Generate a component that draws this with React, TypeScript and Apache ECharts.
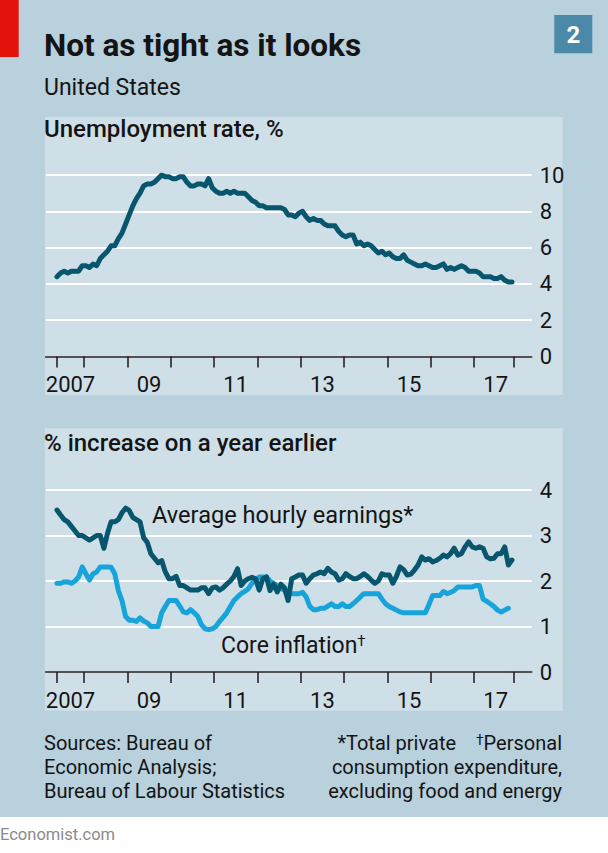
import React, { useEffect, useRef } from "react";
import * as echarts from "echarts";

// ---- Data (monthly) ----
// Unemployment rate, %, May 2007 – Nov 2017
const UNEMP_START: [number, number] = [2007, 5];
const unemployment = [
  4.4, 4.6, 4.7, 4.6, 4.7, 4.7, 4.7, 5.0,
  5.0, 4.9, 5.1, 5.0, 5.4, 5.6, 5.8, 6.1, 6.1, 6.5, 6.8, 7.3,
  7.8, 8.3, 8.7, 9.0, 9.4, 9.5, 9.5, 9.6, 9.8, 10.0, 9.9, 9.9,
  9.8, 9.8, 9.9, 9.9, 9.6, 9.4, 9.4, 9.5, 9.5, 9.4, 9.8, 9.3,
  9.1, 9.0, 9.0, 9.1, 9.0, 9.1, 9.0, 9.0, 9.0, 8.8, 8.6, 8.5,
  8.3, 8.3, 8.2, 8.2, 8.2, 8.2, 8.2, 8.1, 7.8, 7.8, 7.7, 7.9,
  8.0, 7.7, 7.5, 7.6, 7.5, 7.5, 7.3, 7.2, 7.2, 7.2, 6.9, 6.7,
  6.6, 6.7, 6.7, 6.2, 6.3, 6.1, 6.2, 6.1, 5.9, 5.7, 5.8, 5.6,
  5.7, 5.5, 5.4, 5.4, 5.6, 5.3, 5.2, 5.1, 5.0, 5.0, 5.1, 5.0,
  4.9, 4.9, 5.0, 5.1, 4.8, 4.9, 4.8, 4.9, 5.0, 4.9, 4.7, 4.7,
  4.7, 4.6, 4.4, 4.4, 4.4, 4.3, 4.3, 4.4, 4.2, 4.1, 4.1,
];

// Average hourly earnings, % increase on a year earlier, May 2007 – Nov 2017
const EARN_START: [number, number] = [2007, 5];
const earnings = [
  3.56, 3.45, 3.35, 3.3, 3.2, 3.1, 3.0, 3.0,
  2.95, 2.9, 2.95, 3.0, 3.0, 2.72, 3.05, 3.3, 3.3, 3.35, 3.5, 3.6,
  3.55, 3.4, 3.35, 3.3, 2.95, 2.85, 2.6, 2.5, 2.4, 2.45, 2.2, 2.05,
  2.05, 2.1, 1.9, 1.9, 1.85, 1.8, 1.8, 1.8, 1.85, 1.85, 1.72, 1.85,
  1.87, 1.8, 1.85, 1.93, 2.0, 2.1, 2.27, 1.9, 2.0, 2.05, 2.08, 2.05,
  1.8, 2.05, 2.09, 1.79, 1.93, 1.76, 1.93, 1.85, 1.57, 2.05, 2.09, 2.13,
  2.13, 1.95, 2.05, 2.13, 2.16, 2.2, 2.16, 2.28, 2.2, 2.16, 2.02, 2.05,
  2.16, 2.1, 2.05, 2.05, 2.1, 2.16, 2.1, 2.02, 1.95, 2.0, 2.16, 2.13,
  2.13, 1.95, 2.1, 2.31, 2.25, 2.13, 2.15, 2.24, 2.35, 2.53, 2.46, 2.49,
  2.42, 2.45, 2.5, 2.57, 2.53, 2.6, 2.72, 2.57, 2.6, 2.75, 2.86, 2.75,
  2.72, 2.75, 2.72, 2.53, 2.49, 2.5, 2.6, 2.6, 2.75, 2.35, 2.46,
];

// Core inflation (PCE excl. food & energy), % increase on a year earlier, May 2007 – Oct 2017
const CORE_START: [number, number] = [2007, 5];
const coreInflation = [
  1.95, 1.95, 1.98, 1.98, 1.95, 2.0, 2.09, 2.31,
  2.16, 2.02, 2.16, 2.2, 2.31, 2.31, 2.31, 2.3, 2.16, 1.79, 1.57, 1.22,
  1.14, 1.14, 1.11, 1.19, 1.12, 1.08, 1.0, 1.0, 1.0, 1.3, 1.44, 1.57,
  1.57, 1.57, 1.45, 1.32, 1.3, 1.37, 1.3, 1.22, 1.04, 0.95, 0.93, 0.95,
  1.0, 1.11, 1.2, 1.3, 1.44, 1.57, 1.65, 1.72, 1.77, 1.83, 1.95, 2.02,
  2.09, 2.09, 2.09, 2.0, 1.95, 1.9, 1.83, 1.8, 1.76, 1.72, 1.72, 1.72,
  1.75, 1.65, 1.44, 1.37, 1.37, 1.4, 1.4, 1.45, 1.5, 1.44, 1.44, 1.5,
  1.44, 1.44, 1.5, 1.57, 1.65, 1.72, 1.72, 1.72, 1.72, 1.72, 1.6, 1.5,
  1.44, 1.4, 1.36, 1.32, 1.3, 1.3, 1.3, 1.3, 1.3, 1.3, 1.3, 1.48,
  1.68, 1.68, 1.68, 1.77, 1.72, 1.75, 1.79, 1.87, 1.87, 1.87, 1.87, 1.87,
  1.9, 1.9, 1.6, 1.55, 1.5, 1.44, 1.36, 1.32, 1.36, 1.4,
];

const xTickYears = [2008, 2009, 2010, 2011, 2012, 2013, 2014, 2015, 2016, 2017];
const xTickLabels = ["2007", "09", "11", "13", "15", "17"];
const xLabelYears = [2007, 2009, 2011, 2013, 2015, 2017];
const unempTicks = [0, 2, 4, 6, 8, 10];
const pctTicks = [0, 1, 2, 3, 4];

// ---- helpers ----
const toSeries = (start: [number, number], vals: number[]) =>
  vals.map((v, i) => {
    const m = start[1] - 1 + i;
    return [start[0] + (m + 0.5) / 12, v];
  });

const FONT = "Roboto, 'Noto Sans', sans-serif";
const TEXT = "#141414";
const DARK = "#07566e";
const LIGHT = "#17a4db";

export default function App() {
  const ref = useRef<HTMLDivElement>(null);

  useEffect(() => {
    if (!ref.current) return;
    const chart = echarts.init(ref.current, undefined, { renderer: "svg" });

    const uData = toSeries(UNEMP_START, unemployment);
    const eData = toSeries(EARN_START, earnings);
    const cData = toSeries(CORE_START, coreInflation);
    const dataStart = uData[0][0];
    const dataEnd = eData[eData.length - 1][0] + 0.03;

    const tickVals = [dataStart, ...xTickYears, dataEnd];
    const labelVals = xLabelYears.map((y, i) =>
      i === 0 ? (dataStart + y + 1) / 2 : y + 0.5
    );
    const labelFmt = (v: number) => {
      let best = 0;
      let bd = Infinity;
      labelVals.forEach((lv, i) => {
        const d = Math.abs(lv - v);
        if (d < bd) {
          bd = d;
          best = i;
        }
      });
      return xTickLabels[best];
    };

    const xMin = 2007.115;
    const xMax = 2018.33;

    const makeX = (gridIndex: number) => ({
      type: "value",
      gridIndex,
      min: xMin,
      max: xMax,
      splitLine: { show: false },
      axisLine: { show: true, onZero: false, lineStyle: { color: "#1a1a1a", width: 1.5 } },
      axisTick: {
        show: true,
        customValues: tickVals,
        length: 11,
        lineStyle: { color: "#1a1a1a", width: 1.5 },
      },
      axisLabel: {
        show: true,
        customValues: labelVals,
        formatter: labelFmt,
        color: TEXT,
        fontFamily: FONT,
        fontSize: 22,
        margin: 17,
      },
    });

    const makeY = (gridIndex: number, max: number, interval: number, ticks: number[]) => ({
      type: "value",
      gridIndex,
      position: "right",
      min: ticks[0],
      max,
      interval,
      axisLine: { show: false },
      axisTick: { show: false },
      splitLine: { show: true, lineStyle: { color: "#ffffff", width: 2 } },
      axisLabel: {
        color: TEXT,
        fontFamily: FONT,
        fontSize: 22,
        margin: 8,
        align: "left",
      },
    });

    const txt = (text: string, x: number, y: number, size: number, opts: any = {}) => ({
      type: "text",
      z: 100,
      x,
      y,
      style: {
        text,
        fill: opts.fill || TEXT,
        font: `${opts.weight || "normal"} ${size}px ${FONT}`,
        textAlign: opts.align || "left",
        textVerticalAlign: "middle",
        rich: opts.rich,
      },
    });

    const supRich = (size: number) => ({
      sup: {
        fontSize: size,
        fontFamily: FONT,
        fill: TEXT,
        verticalAlign: "top",
        lineHeight: size,
      },
    });

    const option: any = {
      animation: false,
      backgroundColor: "#ffffff",
      grid: [
        { left: 45.7, right: 76.3, top: 175, height: 181.5 },
        { left: 45.7, right: 76.3, top: 490, height: 182 },
      ],
      xAxis: [makeX(0), makeX(1)],
      yAxis: [
        makeY(0, unempTicks[unempTicks.length - 1], 2, unempTicks),
        makeY(1, pctTicks[pctTicks.length - 1], 1, pctTicks),
      ],
      series: [
        {
          type: "line",
          name: "Unemployment rate",
          xAxisIndex: 0,
          yAxisIndex: 0,
          data: uData,
          showSymbol: false,
          lineStyle: { color: DARK, width: 5, join: "round", cap: "round" },
          z: 5,
        },
        {
          type: "line",
          name: "Core inflation",
          xAxisIndex: 1,
          yAxisIndex: 1,
          data: cData,
          showSymbol: false,
          lineStyle: { color: LIGHT, width: 5, join: "round", cap: "round" },
          z: 4,
        },
        {
          type: "line",
          name: "Average hourly earnings",
          xAxisIndex: 1,
          yAxisIndex: 1,
          data: eData,
          showSymbol: false,
          lineStyle: { color: DARK, width: 5, join: "round", cap: "round" },
          z: 5,
        },
      ],
      graphic: [
        { type: "rect", z: -100, shape: { x: 0, y: 0, width: 608, height: 817 }, style: { fill: "#b9d0dd" } },
        { type: "rect", z: -99, shape: { x: 45, y: 117, width: 517.7, height: 278 }, style: { fill: "#cfdfe7" } },
        { type: "rect", z: -99, shape: { x: 45, y: 428.3, width: 517.7, height: 282.4 }, style: { fill: "#cfdfe7" } },
        { type: "rect", z: -98, shape: { x: 0, y: 0, width: 18.7, height: 57 }, style: { fill: "#e3120b" } },
        { type: "rect", z: -98, shape: { x: 554.3, y: 15, width: 38, height: 38.3 }, style: { fill: "#4a8aa8" } },
        txt("2", 573.3, 35, 24, { weight: "bold", fill: "#ffffff", align: "center" }),
        txt("Not as tight as it looks", 44, 45, 31.5, { weight: "bold" }),
        txt("United States", 44, 87, 23),
        txt("Unemployment rate, %", 44, 129, 24, { weight: 500 }),
        txt("% increase on a year earlier", 44, 443, 24, { weight: 500 }),
        txt("Average hourly earnings*", 152, 515, 23.6),
        txt("Core inflation{sup|†}", 221, 645, 23, { rich: supRich(15) }),
        txt("Sources: Bureau of", 44, 743, 20),
        txt("Economic Analysis;", 44, 767, 20),
        txt("Bureau of Labour Statistics", 44, 791, 20),
        txt("*Total private    {sup|†}Personal", 562, 743, 20, { align: "right", rich: supRich(14) }),
        txt("consumption expenditure,", 562, 767, 20, { align: "right" }),
        txt("excluding food and energy", 562, 791, 20, { align: "right" }),
        txt("Economist.com", 0, 834, 16.5, { fill: "#8a8a8a" }),
      ],
    };

    chart.setOption(option);
    return () => chart.dispose();
  }, []);

  return (
    <div
      ref={ref}
      style={{ position: "absolute", left: 0, top: 0, width: 608, height: 853 }}
    />
  );
}
